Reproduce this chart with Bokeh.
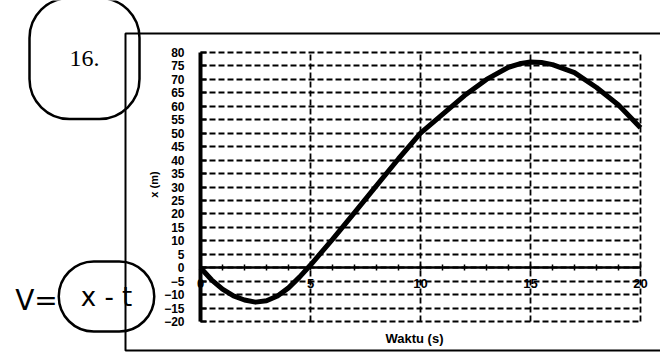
import math
from bokeh.plotting import figure
from bokeh.models import FixedTicker, Label, BoxAnnotation, Range1d
from bokeh.embed import file_html
from bokeh.resources import INLINE

# data
t_values = [0, 0.5, 1, 1.5, 2, 2.5, 3, 3.5, 4, 4.5, 5, 6, 7, 8, 9, 10, 11, 12, 13, 14,
            14.5, 15, 15.5, 16, 17, 18, 19, 20]
x_values = [0, -4.5, -8, -10.5, -12, -12.8, -12.3, -10.5, -7.5, -3.5, 1, 10.5, 20.5, 30.5,
            40.5, 50, 57, 64, 70, 74.5, 75.8, 76.5, 76.3, 75.5, 72.5, 67, 60.5, 52]
x_ticks = [0, 5, 10, 15, 20]
x_minor = list(range(0, 21))
y_ticks = [-20, -15, -10, -5, 0, 5, 10, 15, 20, 25, 30, 35, 40, 45, 50, 55, 60, 65, 70, 75, 80]
x_lim = (0, 20)
y_lim = (-20, 80)

# layout (pixels)
W, H = 660, 359
FL, FR, FT, FB = 200, 640, 52, 321   # where the plotting region sits on the canvas
ppx = (FR - FL) / (x_lim[1] - x_lim[0])
ppy = (FB - FT) / (y_lim[1] - y_lim[0])
xr = Range1d(x_lim[0] - FL / ppx, x_lim[1] + (W - FR) / ppx)
yr = Range1d(y_lim[0] - (H - FB) / ppy, y_lim[1] + FT / ppy)

p = figure(width=W, height=H, output_backend="svg", toolbar_location=None,
           x_range=xr, y_range=yr,
           min_border_left=0, min_border_right=0, min_border_top=0, min_border_bottom=0)
p.outline_line_color = None
p.background_fill_color = "white"
p.border_fill_color = "white"

# grid
p.xgrid.ticker = FixedTicker(ticks=x_ticks)
p.ygrid.ticker = FixedTicker(ticks=y_ticks)
p.xgrid.bounds = x_lim
p.xgrid.cross_bounds = y_lim
p.ygrid.bounds = y_lim
p.ygrid.cross_bounds = x_lim
for g in (p.xgrid, p.ygrid):
    g.grid_line_color = "black"
    g.grid_line_dash = "6 3"
    g.grid_line_width = 1.8

# y axis at x = 0
p.yaxis.fixed_location = 0
p.yaxis.bounds = y_lim
p.yaxis.ticker = FixedTicker(ticks=y_ticks)
p.yaxis.axis_line_width = 4
p.yaxis.axis_line_color = "black"
p.yaxis.major_tick_in = 6
p.yaxis.major_tick_out = 0
p.yaxis.minor_tick_line_color = None
p.yaxis.major_tick_line_width = 2
p.yaxis.major_label_text_font = "Liberation Sans"
p.yaxis.major_label_text_font_style = "bold"
p.yaxis.major_label_text_font_size = "12px"
p.yaxis.major_label_text_color = "black"
p.yaxis.major_label_standoff = 16

# x axis at y = 0
p.xaxis.fixed_location = 0
p.xaxis.bounds = x_lim
p.xaxis.ticker = FixedTicker(ticks=x_ticks, minor_ticks=x_minor)
p.xaxis.axis_line_width = 2.5
p.xaxis.axis_line_color = "black"
p.xaxis.major_tick_in = 0
p.xaxis.major_tick_out = 0
p.xaxis.minor_tick_in = 3
p.xaxis.minor_tick_out = 3
p.xaxis.minor_tick_line_width = 1.5
p.xaxis.minor_tick_line_color = "black"
p.xaxis.major_label_text_font = "Liberation Sans"
p.xaxis.major_label_text_font_style = "bold"
p.xaxis.major_label_text_font_size = "13px"
p.xaxis.major_label_text_color = "black"
p.xaxis.major_label_standoff = 8

# curve
p.line(t_values, x_values, line_color="black", line_width=5, line_join="round")

def sy(y_page):
    return H - y_page

# axis titles
p.add_layout(Label(x=414, y=sy(338), x_units="screen", y_units="screen", text="Waktu (s)",
                   text_font="Liberation Sans", text_font_style="bold",
                   text_font_size="13px", text_align="center", text_baseline="middle",
                   text_color="black"))
p.add_layout(Label(x=153, y=sy(184), x_units="screen", y_units="screen", text="x (m)",
                   angle=math.pi / 2,
                   text_font="Liberation Sans", text_font_style="bold",
                   text_font_size="11px", text_align="center", text_baseline="middle",
                   text_color="black"))

# chart area border
p.add_layout(BoxAnnotation(left=125, right=W + 20, top=sy(33), bottom=sy(350),
                           left_units="screen", right_units="screen",
                           top_units="screen", bottom_units="screen",
                           fill_alpha=0, line_color="black", line_alpha=1, line_width=2))

# handwritten notes
p.add_layout(Label(x=84, y=sy(58), x_units="screen", y_units="screen", text="16.",
                   text_font="Liberation Serif", text_font_size="24px",
                   text_align="center", text_baseline="middle", text_color="black",
                   border_line_color="black", border_line_width=2.5,
                   padding=(40, 53), border_radius=40))
p.add_layout(Label(x=36, y=sy(300), x_units="screen", y_units="screen", text="V=",
                   text_font="DejaVu Sans", text_font_size="28px",
                   text_align="center", text_baseline="middle", text_color="black"))
p.add_layout(Label(x=106, y=sy(296), x_units="screen", y_units="screen", text="x - t",
                   text_font="DejaVu Sans", text_font_size="26px",
                   text_align="center", text_baseline="middle", text_color="black",
                   border_line_color="black", border_line_width=2.5,
                   padding=(22, 20), border_radius=38))

open("out.html", "w").write(file_html(p, INLINE))
